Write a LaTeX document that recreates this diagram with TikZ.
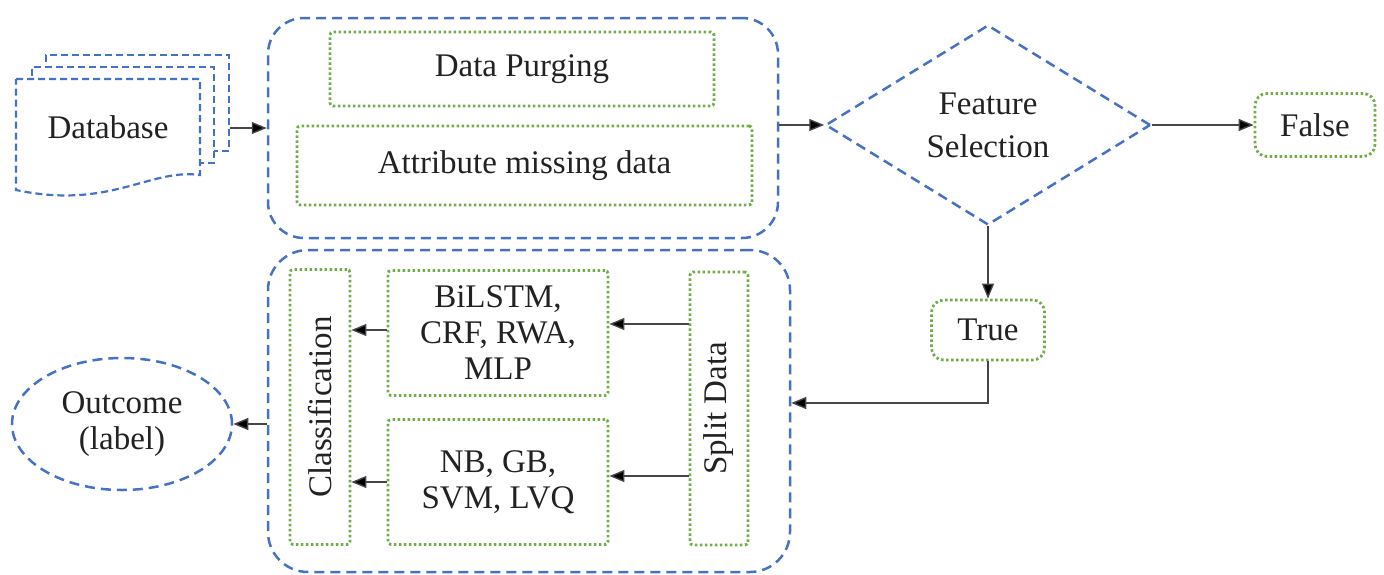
\documentclass[tikz,border=0pt]{standalone}
\usepackage{fontspec}
\setmainfont{Liberation Serif}
\newfontfamily\labelfont{Liberation Serif}
\usetikzlibrary{arrows.meta,shapes.geometric}
\definecolor{dashblue}{RGB}{68,114,196}
\definecolor{dotgreen}{RGB}{112,173,71}
\definecolor{linegray}{RGB}{70,70,70}
\definecolor{inkgray}{RGB}{34,34,34}

\begin{document}
\begin{tikzpicture}[x=1pt,y=-1pt,
  every node/.style={font=\labelfont\fontsize{33}{36}\selectfont, text=inkgray, inner sep=0pt},
  blueline/.style={draw=dashblue, line width=2.5pt, dash pattern=on 10pt off 6pt},
  group/.style={blueline, rectangle, rounded corners=36pt},
  stage/.style={draw=dotgreen, line width=2.8pt, dash pattern=on 2.5pt off 2.5pt, rectangle, rounded corners=3pt, align=center},
  result/.style={stage, rounded corners=12pt},
  page/.style={draw=dashblue, line width=2.2pt, dash pattern=on 7pt off 4pt, fill=white},
  arr/.style={draw=linegray, line width=1.4pt, -{Triangle[length=15pt,width=12pt,fill=black]}}]

\useasboundingbox (0,0) rectangle (1384,574);

% stacked database pages
\node[page, rectangle, minimum width=183pt, minimum height=96pt] (pg3) at (137.5,103) {};
\node[page, rectangle, minimum width=182pt, minimum height=96pt] (pg2) at (123,115) {};
\draw[page] (16,79) -- (200,79) -- (200,175)
  .. controls (150,168) and (110,210) .. (16,190) -- cycle;
\node (db) at (108,127) {Database};

% preprocessing group
\node[group, minimum width=510pt, minimum height=220pt] (pre) at (523,128) {};
\node[stage, minimum width=384pt, minimum height=74pt] (purge) at (522,69) {Data Purging};
\node[stage, minimum width=455pt, minimum height=79pt] (attr) at (524.5,165.5) {Attribute missing data};
\draw[arr] (pg3.east |- pre.west) -- (pre.west);

% decision
\node[diamond, blueline, aspect=1.625, minimum width=325pt, minimum height=200pt,
  align=center, font=\labelfont\fontsize{33}{43}\selectfont] (fs) at (988,125) {Feature\\Selection};
\draw[arr] (pre.east |- fs.west) -- (fs.west);
\node[result, minimum width=120pt, minimum height=63pt] (false) at (1315,125) {False};
\draw[arr] (fs.east) -- (false.west);
\node[result, minimum width=113pt, minimum height=60pt] (true) at (988,330) {True};
\draw[arr] (fs.south) -- (true.north);

% modelling group
\node[group, rounded corners=40pt, minimum width=522pt, minimum height=322pt] (model) at (529,411) {};
\draw[arr] (true.south) |- ([yshift=8pt]model.east);

\node[stage, minimum width=60pt, minimum height=275pt] (cls) at (320,407) {};
\node[rotate=90] (clstext) at (cls.center) {Classification};
\node[stage, minimum width=220pt, minimum height=125pt] (deep) at (498,333) {BiLSTM,\\CRF, RWA,\\MLP};
\node[stage, minimum width=220pt, minimum height=125pt] (shallow) at (498,482) {NB, GB,\\SVM, LVQ};
\node[stage, minimum width=58pt, minimum height=273pt] (split) at (719,408.5) {};
\node[rotate=90] (splittext) at (split.center) {Split Data};

\draw[arr] (split.west |- 0,324) -- (deep.east |- 0,324);
\draw[arr] (split.west |- 0,476) -- (shallow.east |- 0,476);
\draw[arr] (deep.west |- 0,330) -- (cls.east |- 0,330);
\draw[arr] (shallow.west |- 0,482) -- (cls.east |- 0,482);

% result
\node[ellipse, blueline, minimum width=220pt, minimum height=132pt, align=center] (out) at (122,424) {Outcome\\(label)};
\draw[arr] (model.west |- out.east) -- (out.east);
\end{tikzpicture}
\end{document}
